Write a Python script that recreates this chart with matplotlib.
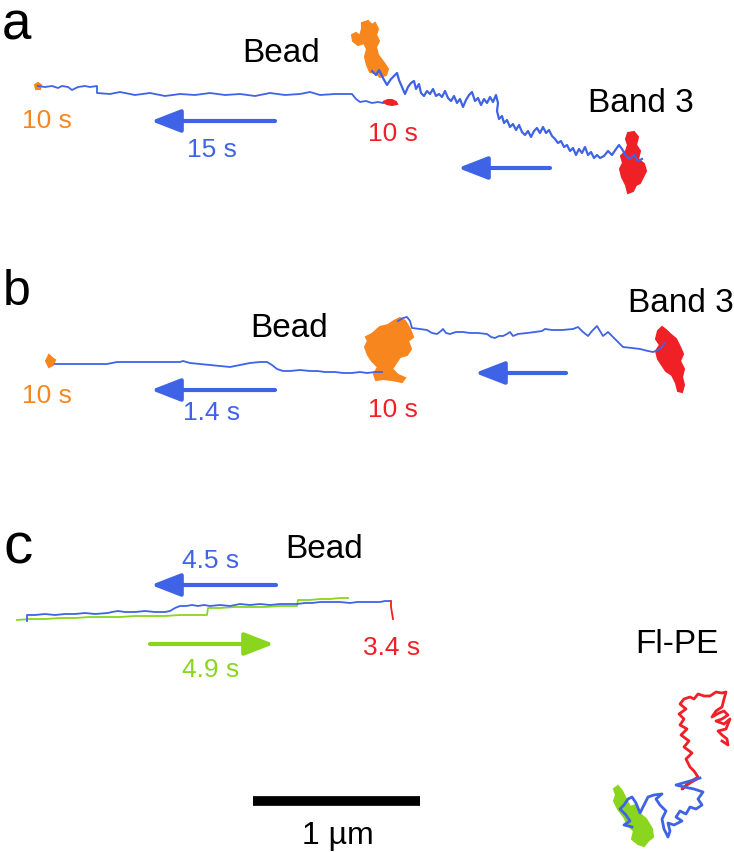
import matplotlib
matplotlib.use("Agg")
import matplotlib.pyplot as plt
from matplotlib.patches import Polygon

BLUE = "#3f63e6"
ORANGE = "#f7861f"
RED = "#ef2026"
GREEN = "#8ad61f"

# ---------------- data (picture pixel coordinates, y downward) ----------------
# Panel a
a_bead_x = [38, 45, 52, 58, 62, 68, 72, 78, 85, 90, 97, 97, 110, 120, 135, 150, 165, 180, 195, 210,
            225, 240, 255, 270, 285, 300, 310, 320, 335, 345, 352, 356, 360, 366, 372, 378, 383]
a_bead_y = [87, 88, 87, 89, 87, 88, 91, 88, 87, 88, 87, 94, 95, 93, 96, 94, 97, 95, 96, 94,
            96, 95, 97, 94, 96, 95, 93, 96, 95, 95, 95, 100, 103, 102, 104, 103, 104]
a_band3_xy = [(372, 72), (376, 76), (379, 71), (383, 79), (387, 86), (391, 80), (394, 77), (397, 74), (399, 81),
              (402, 88), (405, 95), (408, 88), (411, 84), (414, 82), (416, 90), (419, 85), (421, 94), (424, 97),
              (427, 92), (430, 95), (433, 90), (436, 97), (439, 95), (442, 98), (445, 92), (448, 99), (451, 102),
              (454, 97), (457, 104), (460, 100), (463, 108), (466, 101), (469, 96), (472, 93), (475, 102), (478, 99),
              (481, 106), (484, 100), (487, 104), (490, 98), (493, 103), (496, 96), (498, 104), (497, 112), (499, 120),
              (502, 117), (504, 124), (507, 121), (510, 128), (513, 125), (516, 131), (519, 126), (522, 133),
              (525, 136), (528, 132), (531, 138), (534, 132), (537, 129), (540, 134), (543, 128), (546, 134),
              (549, 131), (552, 137), (555, 140), (558, 144), (561, 142), (564, 148), (567, 146), (570, 152),
              (573, 149), (576, 156), (579, 150), (582, 154), (585, 148), (588, 156), (591, 153), (594, 159),
              (597, 156), (600, 159), (604, 157), (608, 152), (612, 156), (616, 150), (619, 146), (622, 150),
              (626, 157), (630, 160), (634, 156), (638, 162), (642, 160)]
a_orange_blob = [(362, 24), (368, 22), (372, 26), (375, 24), (378, 30), (376, 36), (379, 42), (376, 48), (378, 56),
                 (381, 60), (384, 64), (388, 70), (386, 76), (380, 78), (376, 74), (370, 73), (367, 66), (365, 58),
                 (367, 50), (364, 44), (358, 46), (353, 42), (352, 36), (356, 34), (360, 37), (362, 30)]
a_red_blob = [(628, 134), (634, 133), (638, 138), (636, 146), (640, 152), (638, 160), (644, 165), (646, 172),
              (643, 178), (640, 184), (636, 186), (633, 192), (628, 194), (626, 186), (622, 178), (620, 170),
              (623, 164), (621, 157), (626, 152), (628, 146), (626, 140)]
a_red_small = [(383, 103), (388, 101), (392, 101), (396, 103), (397, 105), (392, 106), (387, 105)]
a_orange_small = [(35, 86), (38, 84), (41, 86), (40, 90), (36, 90)]

# Panel b
b_bead_x = [55, 70, 85, 100, 107, 117, 130, 150, 170, 180, 183, 190, 200, 210, 220, 230, 240, 250, 260, 267,
            272, 277, 283, 290, 300, 310, 317, 325, 335, 343, 352, 360, 367, 375, 382]
b_bead_y = [365, 365, 365, 365, 365, 363, 363, 363, 363, 363, 362, 364, 365, 366, 367, 368, 366, 364, 363, 363,
            366, 370, 372, 372, 371, 372, 372, 373, 373, 374, 374, 373, 374, 373, 373]
b_band3_xy = [(398, 322), (403, 319), (407, 318), (410, 322), (412, 329), (420, 330), (427, 331), (432, 334),
              (437, 335), (441, 332), (443, 330), (446, 334), (450, 335), (456, 333), (463, 333), (470, 334),
              (478, 334), (487, 335), (491, 338), (495, 339), (499, 337), (503, 337), (507, 335), (510, 333),
              (513, 337), (518, 335), (527, 334), (535, 333), (542, 332), (545, 330), (552, 331), (562, 331),
              (573, 330), (578, 328), (583, 333), (588, 337), (592, 332), (597, 327), (600, 332), (603, 337),
              (608, 333), (615, 340), (623, 348), (632, 349), (640, 350), (648, 352), (653, 353), (658, 351),
              (662, 348), (665, 344)]
b_orange_blob = [(372, 335), (380, 328), (388, 326), (394, 322), (400, 319), (405, 322), (410, 330), (413, 338),
                 (408, 342), (411, 350), (407, 356), (400, 358), (396, 364), (392, 370), (398, 376), (405, 379),
                 (402, 383), (392, 381), (383, 380), (376, 381), (374, 375), (378, 368), (372, 362), (368, 356),
                 (365, 348), (368, 342), (366, 338)]
b_red_blob = [(658, 332), (662, 328), (666, 331), (670, 335), (676, 340), (680, 348), (683, 355), (680, 362),
              (684, 370), (682, 378), (684, 386), (682, 393), (678, 392), (676, 384), (672, 376), (666, 372),
              (662, 366), (658, 360), (656, 352), (660, 346), (656, 340)]
b_orange_small = [(46, 362), (49, 356), (52, 359), (55, 361), (53, 366), (49, 368)]

# Panel c
c_blue_x = [27, 27, 35, 45, 55, 65, 75, 85, 95, 108, 112, 118, 125, 135, 145, 155, 165, 170, 175, 180, 186, 192,
            198, 204, 210, 220, 230, 240, 250, 260, 270, 280, 290, 297, 305, 312, 320, 330, 340, 350, 357, 365,
            372, 380, 385, 390]
c_blue_y = [622, 616, 616, 615, 616, 615, 615, 614, 615, 614, 613, 612, 613, 613, 612, 613, 613, 612, 609, 607,
            607, 606, 607, 606, 607, 606, 607, 605, 606, 605, 606, 605, 605, 605, 604, 604, 603, 603, 603, 604,
            603, 603, 603, 603, 602, 602]
c_green_x = [17, 30, 45, 60, 75, 90, 107, 120, 135, 150, 165, 180, 195, 207, 208, 220, 235, 250, 265, 280, 297,
             298, 310, 320, 330, 340, 348]
c_green_y = [621, 620, 620, 619, 619, 618, 618, 618, 617, 617, 617, 616, 616, 616, 609, 609, 608, 608, 608, 607,
             607, 601, 601, 600, 600, 599, 599]
c_red_x = [391, 391, 392, 393]
c_red_y = [602, 608, 614, 620]

fl_red_xy = [(697, 780), (688, 785), (682, 790), (690, 783), (698, 778), (694, 772), (690, 768), (686, 760),
             (692, 754), (684, 748), (689, 742), (681, 736), (687, 730), (680, 726), (684, 720), (679, 715),
             (686, 710), (680, 705), (684, 700), (690, 698), (694, 700), (698, 695), (704, 697), (710, 697),
             (716, 693), (722, 694), (726, 693), (724, 700), (722, 708), (716, 712), (712, 718), (719, 714),
             (724, 712), (728, 716), (722, 720), (716, 722), (724, 725), (730, 720), (726, 730), (718, 732),
             (722, 736), (727, 740), (728, 746), (722, 742)]
fl_blue_xy = [(700, 779), (690, 782), (676, 786), (684, 788), (694, 790), (703, 793), (698, 800), (702, 806),
              (696, 810), (690, 808), (686, 815), (680, 812), (676, 818), (682, 822), (674, 826), (668, 824),
              (670, 832), (668, 838), (664, 830), (662, 820), (666, 812), (660, 806), (656, 800), (662, 795),
              (654, 796), (648, 798), (644, 806), (640, 814), (636, 804), (632, 798), (628, 800), (624, 806),
              (620, 810), (626, 816), (630, 822), (624, 826), (632, 828)]
fl_green_blob = [(614, 790), (618, 787), (622, 792), (626, 800), (630, 808), (636, 806), (640, 815), (646, 820),
                 (652, 830), (653, 838), (648, 842), (644, 847), (638, 845), (632, 840), (634, 832), (628, 826),
                 (624, 818), (618, 810), (614, 802), (616, 796)]

# arrows: (x_start, x_end, y, colour)
arrows = [(275, 151, 122, BLUE), (550, 458, 169, BLUE),
          (275, 151, 391, BLUE), (566, 475, 374, BLUE),
          (276, 151, 586, BLUE), (150, 274, 645, GREEN)]

# texts: (x_left, y_baseline, text, size, colour)
texts = [(2, 39, "a", 38, "black"), (3, 305, "b", 36, "black"), (3, 563, "c", 42, "black"),
         (242, 62, "Bead", 24, "black"), (588, 112, "Band 3", 24, "black"),
         (22, 128, "10 s", 19, ORANGE), (187, 157, "15 s", 19, BLUE), (368, 141, "10 s", 19, RED),
         (250, 337, "Bead", 24, "black"), (628, 312, "Band 3", 24, "black"),
         (22, 403, "10 s", 19, ORANGE), (183, 420, "1.4 s", 19, BLUE), (368, 417, "10 s", 19, RED),
         (285, 558, "Bead", 24, "black"), (182, 568, "4.5 s", 19, BLUE), (182, 677, "4.9 s", 19, GREEN),
         (363, 655, "3.4 s", 19, RED), (635, 653, "Fl-PE", 24, "black"), (302, 844, "1 µm", 23, "black")]

scale_bar_x = [253, 420]
scale_bar_y = [802, 802]

# ---------------- drawing ----------------
plt.rcParams['font.family'] = ['Liberation Sans', 'DejaVu Sans']
fig = plt.figure(figsize=(7.34, 8.53), dpi=100)
ax = fig.add_axes([0, 0, 1, 1])
ax.set_xlim(0, 734)
ax.set_ylim(853, 0)
ax.axis('off')


def xy(pts):
    return [p[0] for p in pts], [p[1] for p in pts]


def blob(pts, color):
    ax.add_patch(Polygon(pts, closed=True, facecolor=color, edgecolor=color, lw=1.5, joinstyle='miter'))


# panel a
ax.plot(a_bead_x, a_bead_y, color=BLUE, lw=1.3)
blob(a_orange_blob, ORANGE)
ax.plot(*xy(a_band3_xy), color=BLUE, lw=1.6)
blob(a_red_blob, RED)
blob(a_red_small, RED)
blob(a_orange_small, ORANGE)

# panel b
ax.plot(b_bead_x, b_bead_y, color=BLUE, lw=1.3)
ax.plot(*xy(b_band3_xy), color=BLUE, lw=1.3)
blob(b_orange_blob, ORANGE)
blob(b_red_blob, RED)
blob(b_orange_small, ORANGE)

# panel c
ax.plot(c_green_x, c_green_y, color=GREEN, lw=1.3)
ax.plot(c_blue_x, c_blue_y, color=BLUE, lw=1.3)
ax.plot(c_red_x, c_red_y, color=RED, lw=1.3)
ax.plot(*xy(fl_red_xy), color=RED, lw=2)
blob(fl_green_blob, GREEN)
ax.plot(*xy(fl_blue_xy), color=BLUE, lw=2)

for x0, x1, y, c in arrows:
    ax.annotate('', xy=(x1, y), xytext=(x0, y),
                arrowprops=dict(arrowstyle='-|>,head_length=0.9,head_width=0.35', lw=3,
                                color=c, shrinkA=0, shrinkB=0, mutation_scale=20))

for x, y, s, size, c in texts:
    ax.text(x, y, s, fontsize=size, color=c, ha='left', va='baseline')

ax.plot(scale_bar_x, scale_bar_y, color='black', lw=7, solid_capstyle='butt')

fig.savefig("out.png", dpi=100)
